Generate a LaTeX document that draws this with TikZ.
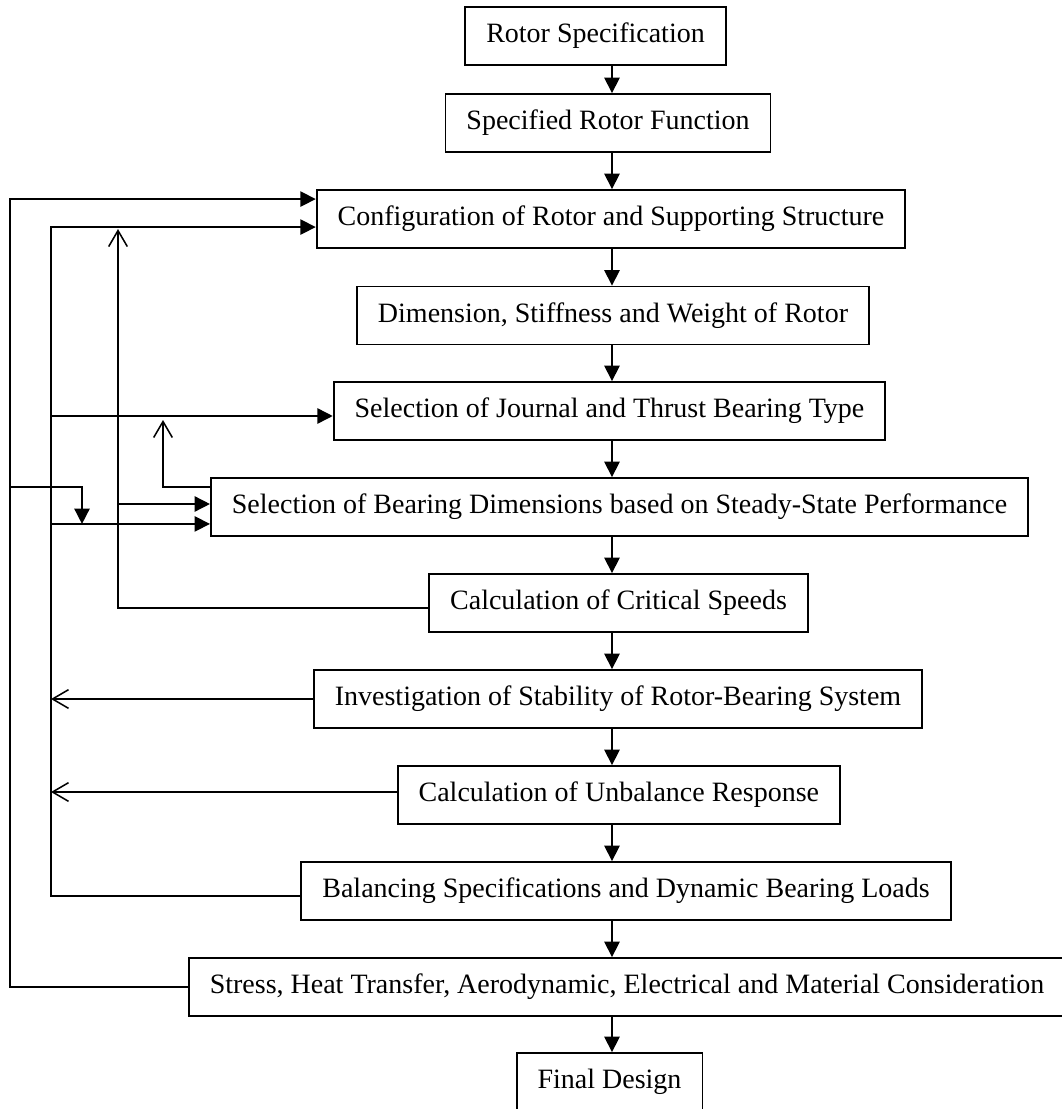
\documentclass[tikz,border=0pt]{standalone}
\usepackage{fontspec}
\setmainfont{Liberation Serif}
\usetikzlibrary{arrows.meta,calc}
\begin{document}
\begin{tikzpicture}[x=0.75pt,y=-0.75pt,
  box/.style={draw,line width=1.4pt,inner xsep=15.75pt,minimum height=43.5pt,
    font=\fontsize{21}{25}\selectfont},
  link/.style={line width=1.15pt},
  arr/.style={link,-{Triangle[length=11.5pt,width=11.5pt]}},
  fb/.style={link,-{Straight Barb[length=12pt,width=14pt,line width=1.15pt]}}]
\useasboundingbox (0,0) rectangle (1061,1109);

% main column of design steps
\node[box] (b1)  at (595.5,36)  {Rotor Specification};
\node[box] (b2)  at (608,123)   {Specified Rotor Function};
\node[box] (b3)  at (611,219)   {Configuration of Rotor and Supporting Structure};
\node[box,anchor=east] (b4) at (870,315.5) {Dimension, Stiffness and Weight of Rotor};
\node[box] (b5)  at (609.5,411) {Selection of Journal and Thrust Bearing Type};
\node[box] (b6)  at (619.5,507) {Selection of Bearing Dimensions based on Steady-State Performance};
\node[box] (b7)  at (618.5,603) {Calculation of Critical Speeds};
\node[box] (b8)  at (618,699)   {Investigation of Stability of Rotor-Bearing System};
\node[box,anchor=east] (b9) at (841,795) {Calculation of Unbalance Response};
\node[box] (b10) at (626,891)   {Balancing Specifications and Dynamic Bearing Loads};
\node[box] (b11) at (627,987)   {Stress, Heat Transfer, Aerodynamic, Electrical and Material Consideration};
\node[box] (b12) at (609.5,1082) {Final Design};

% vertical flow
\coordinate (col) at (612,0);
\foreach \a/\b in {b1/b2,b2/b3,b3/b4,b4/b5,b5/b6,b6/b7,b7/b8,b8/b9,b9/b10,b10/b11,b11/b12}
  \draw[arr] (\a.south -| col) -- (\b.north -| col);

% feedback rails on the left
\coordinate (L) at (10,0);
\coordinate (M) at (51,0);
\coordinate (Q) at (82,0);
\coordinate (C) at (118,0);
\coordinate (P) at (163,0);

\coordinate (inA)  at ($(b3.north west)+(0,10)$);
\coordinate (inB)  at ($(b3.north west)+(0,38)$);
\coordinate (outB) at ($(b10.west)+(0,5)$);
\coordinate (outC) at ($(b7.west)+(0,5)$);
\coordinate (inD)  at ($(b5.west)+(0,5)$);
\coordinate (outE) at ($(b6.north west)+(0,10)$);
\coordinate (inG)  at ($(b6.west)+(0,-3)$);
\coordinate (inH)  at ($(b6.south west)+(0,-13)$);

% outer loop: from the final considerations back to the configuration
\draw[arr] (b11.west) -- (b11.west -| L) |- (inA);
% inner loop: from balancing back to the configuration
\draw[arr] (outB) -- (outB -| M) |- (inB);
% critical speeds back up
\draw[fb] (outC) -- (outC -| C) -- ($(C |- inB)+(0,2)$);
% branch into bearing type selection
\draw[arr] (inD -| M) -- (inD);
% bearing dimensions back to bearing type
\draw[fb] (outE) -- (outE -| P) -- ($(P |- inD)+(0,4)$);
% inputs to bearing dimensions
\draw[arr] (outE -| L) -- (outE -| Q) -- (Q |- inH);
\draw[arr] (inG -| C) -- (inG);
\draw[arr] (inH -| M) -- (inH);
% stability and unbalance results fed back
\draw[fb] (b8.west) -- (b8.west -| M);
\draw[fb] ($(b9.west)+(0,-3)$) -- ($(b9.west -| M)+(0,-3)$);
\end{tikzpicture}
\end{document}
